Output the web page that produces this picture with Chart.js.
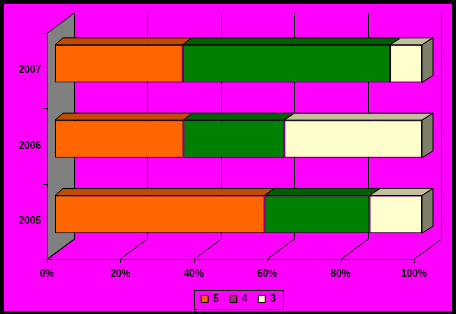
<!DOCTYPE html>
<html>
<head>
<meta charset="utf-8">
<script src="https://cdn.jsdelivr.net/npm/chart.js@4"></script>
<style>
  html, body { margin: 0; padding: 0; background: #000; }
  canvas { display: block; }
</style>
</head>
<body>
<canvas id="grades" width="456" height="314"></canvas>
<script>
// share of marks per year, in %
const years = ['2007', '2006', '2005'];
const seriesNames = ['5', '4', '3'];
const mark5 = [34.8, 35.0, 57.1];
const mark4 = [56.5, 27.5, 28.6];
const mark3 = [8.7, 37.5, 14.3];
const xTicks = [0, 20, 40, 60, 80, 100];

const fronts = ['#FF6600', '#008000', '#FFFFCC'];
const tops = ['#BF4C00', '#006000', '#C0C09A'];
const sides = ['#803300', '#004000', '#80806A'];
const legendSwatch = ['#FF6600', '#993366', '#FFFFCC'];

// 3d look
const FRONT_SHIFT = 8;   // front wall vs bar face
const WALL_DX = 27, WALL_DY = -20;
const BAR_DY = -7;

const font = {family: 'Liberation Sans, Arial, sans-serif', size: 10, weight: 'bold'};

function barDx(chart, x) {
    const a = chart.chartArea;
    return 8 + 3 * (x - a.left) / (a.right - a.left);
}

const depthPlugin = {
    id: 'depth',
    beforeDraw(chart) {
        const ctx = chart.ctx;
        ctx.save();
        ctx.fillStyle = '#000';
        ctx.fillRect(0, 0, chart.width, chart.height);
        ctx.fillStyle = '#FF00FF';
        ctx.fillRect(4, 4, chart.width - 8, chart.height - 7);
        ctx.restore();
    },
    beforeDatasetsDraw(chart) {
        const ctx = chart.ctx;
        const xs = chart.scales.x;
        const a = chart.chartArea;
        const top = a.top - BAR_DY;
        const bottom = a.bottom - BAR_DY;
        const x0 = Math.round(xs.getPixelForValue(0) - FRONT_SHIFT) + 0.5;
        const x1 = Math.round(xs.getPixelForValue(100) - FRONT_SHIFT) + 0.5;
        ctx.save();
        ctx.lineWidth = 1;
        ctx.strokeStyle = '#000';
        // left wall
        ctx.beginPath();
        ctx.moveTo(x0, top);
        ctx.lineTo(x0 + WALL_DX, top + WALL_DY);
        ctx.lineTo(x0 + WALL_DX, bottom + WALL_DY);
        ctx.lineTo(x0, bottom);
        ctx.closePath();
        ctx.fillStyle = '#808080';
        ctx.fill();
        ctx.stroke();
        // back grid + floor lines
        xTicks.forEach(v => {
            const x = Math.round(xs.getPixelForValue(v) - FRONT_SHIFT) + 0.5;
            ctx.beginPath();
            ctx.moveTo(x + WALL_DX, top + WALL_DY);
            ctx.lineTo(x + WALL_DX, bottom + WALL_DY);
            ctx.moveTo(x, bottom);
            ctx.lineTo(x + WALL_DX, bottom + WALL_DY);
            ctx.moveTo(x, bottom);
            ctx.lineTo(x, bottom + 4);
            ctx.stroke();
        });
        // front axis line
        ctx.beginPath();
        ctx.moveTo(x0, Math.round(bottom) + 0.5);
        ctx.lineTo(x1, Math.round(bottom) + 0.5);
        ctx.stroke();
        // category ticks on the wall edge
        const step = (bottom - top) / years.length;
        for (let i = 0; i <= years.length; i++) {
            const y = Math.round(top + i * step) + 0.5;
            ctx.beginPath();
            ctx.moveTo(x0 - 4, y);
            ctx.lineTo(x0, y);
            ctx.stroke();
        }
        ctx.restore();
    },
    afterDatasetsDraw(chart) {
        const ctx = chart.ctx;
        const last = chart.data.datasets.length - 1;
        ctx.save();
        ctx.lineWidth = 1;
        ctx.strokeStyle = '#000';
        chart.data.datasets.forEach((ds, di) => {
            const meta = chart.getDatasetMeta(di);
            meta.data.forEach(bar => {
                const p = bar.getProps(['x', 'y', 'base', 'height'], true);
                const l = Math.min(p.x, p.base), r = Math.max(p.x, p.base);
                if (r - l < 0.5) return;
                const t = p.y - p.height / 2, b = p.y + p.height / 2;
                const dl = barDx(chart, l), dr = barDx(chart, r);
                ctx.beginPath();
                ctx.moveTo(l, t);
                ctx.lineTo(l + dl, t + BAR_DY);
                ctx.lineTo(r + dr, t + BAR_DY);
                ctx.lineTo(r, t);
                ctx.closePath();
                ctx.fillStyle = tops[di];
                ctx.fill();
                ctx.stroke();
                if (di === last) {
                    ctx.beginPath();
                    ctx.moveTo(r, t);
                    ctx.lineTo(r + dr, t + BAR_DY);
                    ctx.lineTo(r + dr, b + BAR_DY);
                    ctx.lineTo(r, b);
                    ctx.closePath();
                    ctx.fillStyle = sides[di];
                    ctx.fill();
                    ctx.stroke();
                }
            });
        });
        ctx.restore();
    },
    afterDraw(chart) {
        const boxes = chart.legend.legendHitBoxes;
        if (!boxes || !boxes.length) return;
        const ctx = chart.ctx;
        const left = Math.min(...boxes.map(h => h.left)) - 7;
        const right = Math.max(...boxes.map(h => h.left + h.width)) + 7;
        const mid = boxes[0].top + boxes[0].height / 2;
        ctx.save();
        ctx.strokeStyle = '#000';
        ctx.lineWidth = 1;
        ctx.strokeRect(Math.round(left) + 0.5, Math.round(mid - 9.5) + 0.5, Math.round(right - left), 19);
        ctx.restore();
    }
};

const config = {
    type: 'bar',
    data: {
        labels: years,
        datasets: [mark5, mark4, mark3].map((values, i) => ({
            label: seriesNames[i],
            data: values,
            backgroundColor: fronts[i],
            borderColor: '#000',
            borderWidth: 1,
            borderSkipped: false,
            barPercentage: 0.5,
            categoryPercentage: 1
        }))
    },
    options: {
        indexAxis: 'y',
        responsive: false,
        animation: false,
        devicePixelRatio: 1,
        layout: {
            padding: {left: 4, top: 26, right: 34, bottom: 0}
        },
        scales: {
            x: {
                stacked: true,
                min: 0,
                max: 100,
                afterBuildTicks: scale => { scale.ticks = xTicks.map(v => ({value: v})); },
                afterFit: scale => { scale.height = 31; },
                grid: {display: false, drawTicks: false},
                border: {display: false},
                ticks: {
                    font: font,
                    color: '#000',
                    padding: 16,
                    labelOffset: -FRONT_SHIFT,
                    maxRotation: 0,
                    callback: v => v + '%'
                }
            },
            y: {
                stacked: true,
                afterFit: scale => { scale.width = 51; },
                grid: {display: false, drawTicks: false},
                border: {display: false},
                ticks: {
                    font: font,
                    color: '#000',
                    padding: 14,
                    labelOffset: -BAR_DY
                }
            }
        },
        plugins: {
            tooltip: {enabled: false},
            legend: {
                position: 'bottom',
                fullSize: false,
                labels: {
                    font: font,
                    color: '#000',
                    boxWidth: 7,
                    boxHeight: 7,
                    padding: 11,
                    generateLabels: chart => {
                        const items = Chart.defaults.plugins.legend.labels.generateLabels(chart);
                        items.forEach((it, i) => {
                            it.fillStyle = legendSwatch[i];
                            it.strokeStyle = '#000';
                            it.lineWidth = 1;
                        });
                        return items;
                    }
                }
            }
        }
    },
    plugins: [depthPlugin]
};

const gradesChart = new Chart(document.getElementById('grades'), config);
</script>
</body>
</html>
